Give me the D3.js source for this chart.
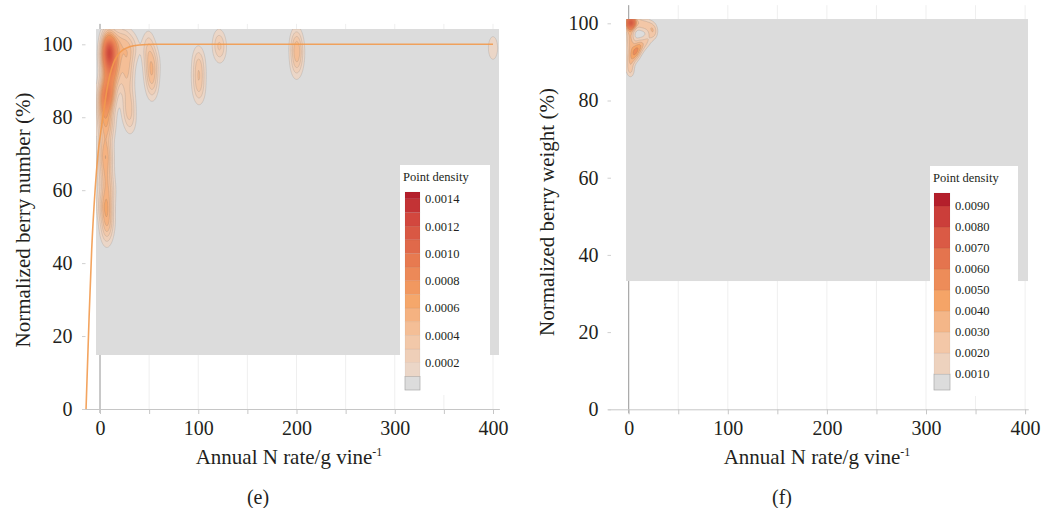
<!DOCTYPE html>
<html>
<head>
<meta charset="utf-8">
<script src="https://cdn.jsdelivr.net/npm/d3@7"></script>
<style>
  body { margin: 0; background: #fff; }
  svg { display: block; }
</style>
</head>
<body>
<svg id="chart" width="1041" height="508"></svg>
<script>
// ---------- Panel (e): normalized berry number vs annual N rate ----------
const numberN = [
  7, 9, 10, 8, 11, 6, 9, 12, 7, 10, 8, 12, 5,
  3, 6, 2, 9, 5, 12, 3, 8, 15, 4, 10, 6, 9, 4,
  5, 8, 4, 7, 5, 7, 6, 6, 7, 10, 3, 9,
  16, 18, 20, 17,
  26, 28, 27, 29, 26, 30, 28, 31, 34,
  51, 53, 50, 55, 53, 49,
  100, 101, 100, 101,
  120, 123,
  200, 200, 201, 200,
  400
];
const numberPct = [
  101, 100, 99, 98, 97, 99, 96, 101, 94, 92, 90, 94, 96,
  87, 85, 82, 84, 80, 86, 77, 76, 90, 72, 79, 88, 87, 84,
  70, 69, 67, 64, 62, 57, 55, 51, 48, 60, 56, 52,
  99, 96, 101, 93,
  101, 98, 95, 92, 89, 85, 82, 79, 99,
  93, 91, 97, 95, 88, 100,
  96, 93, 90, 87,
  100, 99,
  101, 99, 97, 94,
  99
];
// fitted response curve (N rate, %)
const fitN   = [-14.2, -11, -8.4, -5, -2, 1, 4, 7, 10, 14, 18, 24, 30, 40, 55, 80, 400];
const fitPct = [0, 26, 44, 60, 70, 76.5, 82, 87.5, 91.5, 95, 97, 98.6, 99.3, 99.8, 100, 100, 100];
const numberLevels = [0.0001, 0.0002, 0.0003, 0.0004, 0.0005, 0.0006, 0.0007,
                      0.0008, 0.0009, 0.0010, 0.0011, 0.0012, 0.0013, 0.0014];
const numberLegendTicks = [0.0002, 0.0004, 0.0006, 0.0008, 0.0010, 0.0012, 0.0014];
const numberLegendRange = [0, 0.00145];

// ---------- Panel (f): normalized berry weight vs annual N rate ----------
const weightN = [
  0, 1, 2, 3, 1, 2.5, 0.5, 4, 1.5, 3.5,
  7, 10, 13, 16, 19, 22, 25,
  26, 23,
  0.5, 1.5, 1, 2.5, 1, 2, 1, 1.5, 1, 2,
  19, 16, 13, 11, 9, 7, 5, 4, 10, 6, 8
];
const weightPct = [
  100.8, 100.3, 100.7, 100.1, 99.7, 99.5, 100, 100.6, 101, 99.9,
  100.3, 100.1, 99.8, 99.7, 99.4, 99.2, 98.7,
  97.6, 96.8,
  98.3, 97.2, 96, 95.2, 94, 92.6, 91, 89.5, 88.3, 87.2,
  95.6, 94.9, 94.3, 93.7, 93.2, 92.5, 91.7, 90.8, 94.6, 93.6, 92
];
const weightLevels = [0.001, 0.002, 0.003, 0.004, 0.005, 0.006, 0.007, 0.008, 0.009];
const weightLegendTicks = [0.001, 0.002, 0.003, 0.004, 0.005, 0.006, 0.007, 0.008, 0.009];
const weightLegendRange = [0.00024, 0.00962];

const axisTicksX = [0, 50, 100, 150, 200, 250, 300, 350, 400];
const axisLabelsX = [0, 100, 200, 300, 400];
const axisTicksY = [0, 20, 40, 60, 80, 100];

const FONT = "Liberation Serif, DejaVu Serif, serif";
const INK = "#231f20";

// shared colour ramp: grey background -> peach -> orange -> red
const ramp = d3.scaleLinear()
  .domain([0, 0.07, 0.25, 0.45, 0.65, 0.85, 1])
  .range(["#dcdcdc", "#ebd6c7", "#f4c4a1", "#f5a365", "#e6784f", "#d3493f", "#b41f2b"]);

const svg = d3.select("#chart").attr("font-family", FONT);
const defs = svg.append("defs");
defs.append("filter").attr("id", "soft")
  .attr("x", "-30%").attr("y", "-30%").attr("width", "160%").attr("height", "160%")
  .append("feGaussianBlur").attr("stdDeviation", 2.4);

// Gaussian kernel density on a regular grid (values in points per g·%)
function kde(xs, ys, bw, ext, nx, ny) {
  const [x0, x1] = ext.x, [y0, y1] = ext.y;
  const dx = (x1 - x0) / nx, dy = (y1 - y0) / ny;
  const n = xs.length;
  const norm = 1 / (2 * Math.PI * bw[0] * bw[1] * n);
  const vals = new Float64Array(nx * ny);
  for (let j = 0; j < ny; j++) {
    const yv = y1 - (j + 0.5) * dy;
    for (let i = 0; i < nx; i++) {
      const xv = x0 + (i + 0.5) * dx;
      let s = 0;
      for (let k = 0; k < n; k++) {
        const a = (xv - xs[k]) / bw[0], b = (yv - ys[k]) / bw[1];
        const q = a * a + b * b;
        if (q < 40) s += Math.exp(-0.5 * q);
      }
      vals[j * nx + i] = s * norm;
    }
  }
  return { vals, dx, dy };
}

function styleText(sel, size) {
  sel.attr("font-size", size).attr("font-family", FONT).attr("fill", INK);
}

function drawPanel(cfg) {
  const g = svg.append("g");
  const x = d3.scaleLinear().domain(cfg.xDomain).range(cfg.xRange);
  const y = d3.scaleLinear().domain(cfg.yDomain).range(cfg.yRange);
  const top = cfg.yRange[1], base = cfg.yRange[0];

  // faint vertical grid
  g.append("g").selectAll("line").data(axisTicksX).join("line")
    .attr("x1", d => x(d)).attr("x2", d => x(d))
    .attr("y1", top).attr("y2", base)
    .attr("stroke", "#efefef").attr("stroke-width", 1);

  // zero line
  g.append("line")
    .attr("x1", x(0)).attr("x2", x(0)).attr("y1", top).attr("y2", base + 4)
    .attr("stroke", "#9a9a9a").attr("stroke-width", 1);

  // x axis
  const xAxis = d3.axisBottom(x).tickValues(axisTicksX)
    .tickFormat(d => axisLabelsX.includes(d) ? d : "")
    .tickSizeInner(5).tickSizeOuter(0).tickPadding(7);
  const gx = g.append("g").attr("transform", `translate(0,${base})`).call(xAxis)
    .attr("font-family", FONT);
  gx.select(".domain").attr("stroke", "#c6c6c6");
  gx.selectAll(".tick line").attr("stroke", "#c6c6c6");
  styleText(gx.selectAll(".tick text"), 20);

  // y axis
  const yAxis = d3.axisLeft(y).tickValues(axisTicksY).tickSizeInner(3.5).tickSizeOuter(0).tickPadding(cfg.yPad);
  const gy = g.append("g").attr("transform", `translate(${cfg.yAxisX},0)`).call(yAxis)
    .attr("font-family", FONT);
  gy.select(".domain").remove();
  gy.selectAll(".tick line").attr("stroke", "#d0d0d0");
  styleText(gy.selectAll(".tick text"), 20);

  // density layer
  const ext = cfg.gridExtent;
  const nx = Math.round(Math.abs(x(ext.x[1]) - x(ext.x[0])));
  const ny = Math.round(Math.abs(y(ext.y[1]) - y(ext.y[0])));
  const est = kde(cfg.px, cfg.py, cfg.bandwidth, ext, nx, ny);
  const topLevel = cfg.levels[cfg.levels.length - 1];
  const color = v => ramp(v / topLevel);

  const clipId = "clip-" + cfg.id;
  defs.append("clipPath").attr("id", clipId).append("rect")
    .attr("x", x(ext.x[0])).attr("y", y(ext.y[1]))
    .attr("width", x(ext.x[1]) - x(ext.x[0])).attr("height", y(ext.y[0]) - y(ext.y[1]));

  const dg = g.append("g").attr("clip-path", `url(#${clipId})`);
  dg.append("rect")
    .attr("x", x(ext.x[0])).attr("y", y(ext.y[1]))
    .attr("width", x(ext.x[1]) - x(ext.x[0])).attr("height", y(ext.y[0]) - y(ext.y[1]))
    .attr("fill", color(0));

  const proj = d3.geoTransform({
    point: function (px, py) {
      this.stream.point(x(ext.x[0] + px * est.dx), y(ext.y[1] - py * est.dy));
    }
  });
  const path = d3.geoPath(proj);
  const contours = d3.contours().size([nx, ny]).thresholds(cfg.levels)(est.vals);

  const lowC = contours.filter(c => c.value < cfg.blurFrom);
  const highC = contours.filter(c => c.value >= cfg.blurFrom);
  dg.append("g").selectAll("path").data(lowC).join("path")
    .attr("d", path).attr("fill", d => color(d.value))
    .attr("stroke", "rgba(120,112,108,0.32)").attr("stroke-width", 0.6);
  dg.append("g").attr("filter", "url(#soft)").selectAll("path").data(highC).join("path")
    .attr("d", path).attr("fill", d => color(d.value));

  // fitted curve
  if (cfg.fit) {
    const line = d3.line().x(d => x(d[0])).y(d => y(d[1])).curve(d3.curveMonotoneX);
    g.append("path").datum(d3.zip(cfg.fit[0], cfg.fit[1]))
      .attr("d", line).attr("fill", "none")
      .attr("stroke", "#f29a4e").attr("stroke-width", 1.6).attr("stroke-opacity", 0.9);
  }

  // legend
  const L = cfg.legend;
  const lg = g.append("g");
  lg.append("rect").attr("x", L.x).attr("y", L.y).attr("width", L.w).attr("height", L.h).attr("fill", "#fff");
  styleText(lg.append("text").attr("x", L.x + 3).attr("y", L.y + 16).text("Point density"), 12.5);
  const ls = d3.scaleLinear().domain(cfg.legendRange).range([L.barBottom, L.barTop]);
  const breaks = [cfg.legendRange[0], ...cfg.levels, cfg.legendRange[1]];
  const bands = d3.pairs(breaks);
  lg.append("g").selectAll("rect").data(bands).join("rect")
    .attr("x", L.barX).attr("width", L.barW)
    .attr("y", d => ls(d[1])).attr("height", d => ls(d[0]) - ls(d[1]))
    .attr("fill", (d, i) => i === 0 ? color(0) : color(d[0]))
    .attr("stroke", (d, i) => i === 0 ? "#a8a8a8" : "rgba(0,0,0,0.06)")
    .attr("stroke-width", 0.7);
  styleText(lg.append("g").selectAll("text").data(cfg.legendTicks).join("text")
    .attr("x", L.barX + L.barW + 5).attr("y", d => ls(d)).attr("dy", "0.35em")
    .text(d => d3.format(".4f")(d)), 12.5);

  // axis titles
  const xt = g.append("text").attr("x", cfg.xTitleX).attr("y", 464).attr("text-anchor", "middle");
  styleText(xt, 21);
  xt.append("tspan").text("Annual N rate/g vine");
  xt.append("tspan").attr("font-size", 12).attr("dy", -8).text("-1");
  styleText(g.append("text").attr("transform", `translate(${cfg.yTitleX},${cfg.yTitleY}) rotate(-90)`)
    .attr("text-anchor", "middle").text(cfg.yTitle), 21);
  styleText(g.append("text").attr("x", cfg.tagX).attr("y", 504).attr("text-anchor", "middle")
    .text(cfg.tag), 20);
}

drawPanel({
  id: "e",
  xDomain: [-17.3, 406.5], xRange: [100 - 17.3 * 0.9825, 100 + 406.5 * 0.9825],
  yDomain: [0, 105.6], yRange: [409, 409 - 105.6 * 3.647],
  yAxisX: 85.5, yPad: 9.5,
  px: numberN, py: numberPct, bandwidth: [4.5, 3.0],
  gridExtent: { x: [-4.07, 406.1], y: [14.8, 104.2] },
  levels: numberLevels, blurFrom: 0.0008,
  legendTicks: numberLegendTicks, legendRange: numberLegendRange,
  legend: { x: 400, y: 165, w: 90, h: 230, barX: 405, barW: 15, barTop: 192, barBottom: 390 },
  fit: [fitN, fitPct],
  xTitleX: 289, yTitleX: 29.5, yTitleY: 220, yTitle: "Normalized berry number (%)",
  tagX: 258, tag: "(e)"
});

drawPanel({
  id: "f",
  xDomain: [-21.2, 403.2], xRange: [628.7 - 21.2 * 0.991, 628.7 + 403.2 * 0.991],
  yDomain: [0, 104.7], yRange: [409.3, 409.3 - 104.7 * 3.86],
  yAxisX: 611, yPad: 9,
  px: weightN, py: weightPct, bandwidth: [3.0, 1.2],
  gridExtent: { x: [-2.7, 403], y: [33.2, 101.1] },
  levels: weightLevels, blurFrom: 0.006,
  legendTicks: weightLegendTicks, legendRange: weightLegendRange,
  legend: { x: 930, y: 166, w: 88, h: 230, barX: 934, barW: 16, barTop: 193, barBottom: 390 },
  fit: null,
  xTitleX: 817, yTitleX: 553.5, yTitleY: 212, yTitle: "Normalized berry weight (%)",
  tagX: 782, tag: "(f)"
});
</script>
</body>
</html>
